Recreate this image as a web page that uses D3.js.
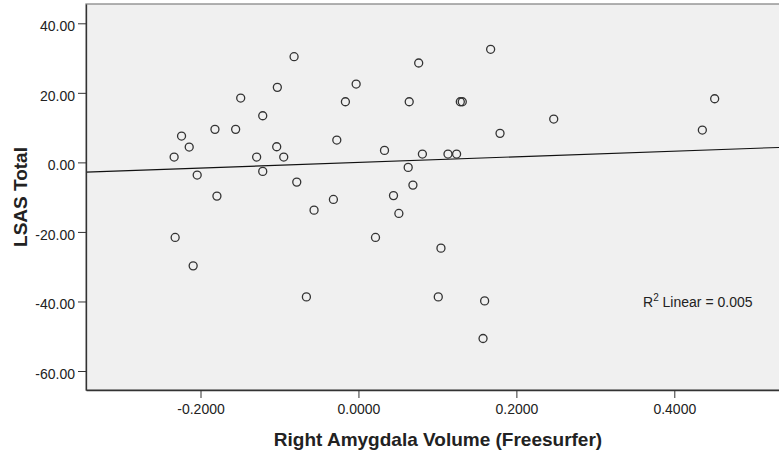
<!doctype html>
<html lang="en">
<head>
<meta charset="utf-8">
<title>LSAS Total vs Right Amygdala Volume</title>
<script src="https://d3js.org/d3.v7.min.js"></script>
<style>
  body { margin: 0; background: #fff; }
  text { font-family: "Liberation Sans", Arial, sans-serif; fill: #222; }
  .tick text { font-size: 14px; }
  .tick line, .domain { stroke: #333; }
  .title { font-size: 19px; font-weight: bold; }
  .pt { fill: none; stroke: #333; stroke-width: 1.3px; }
</style>
</head>
<body>
<svg width="779" height="457"></svg>
<script>
// right amygdala volume (x) and LSAS total (y)
var amygdala = [-0.224, -0.2143, -0.2334, -0.2042, -0.2321, -0.2093, -0.0815, -0.1027, -0.0029, -0.1491,
  -0.0165, -0.1212, -0.1817, -0.1555, -0.1035, -0.0274, -0.1289, -0.0946, -0.1212, -0.0781,
  -0.1792, -0.0562, -0.0317, -0.0659, 0.0216, 0.033, 0.0763, 0.0643, 0.063, 0.069,
  0.0444, 0.0512, 0.081, 0.1134, 0.1243, 0.129, 0.1315, 0.1674, 0.1793, 0.1045,
  0.1011, 0.1598, 0.1578, 0.2473, 0.4355, 0.4511];
var lsas = [7.57, 4.40, 1.53, -3.65, -21.58, -29.76, 30.39, 21.58, 22.53, 18.50,
  17.44, 13.41, 9.50, 9.50, 4.49, 6.42, 1.53, 1.53, -2.59, -5.67,
  -9.70, -13.73, -10.65, -38.68, -21.58, 3.45, 28.58, 17.44, -1.44, -6.53,
  -9.55, -14.68, 2.39, 2.39, 2.39, 17.44, 17.44, 32.52, 8.35, -24.66,
  -38.68, -39.83, -50.65, 12.46, 9.30, 18.30];

var xTicks = [-0.2, 0, 0.2, 0.4];
var yTicks = [-60, -40, -20, 0, 20, 40];
var xDomain = [-0.345, 0.5465];
var yDomain = [-65.46, 45.55];
var xLabel = "Right Amygdala Volume (Freesurfer)";
var yLabel = "LSAS Total";
var r2Text = "0.005";

var svg = d3.select("svg");
var pl = 86, pr = 790, pt = 4, pb = 390;

var x = d3.scaleLinear().domain(xDomain).range([pl, pr]);
var y = d3.scaleLinear().domain(yDomain).range([pb, pt]);

svg.append("defs").append("clipPath").attr("id", "clip")
  .append("rect").attr("x", pl).attr("y", pt)
  .attr("width", pr - pl).attr("height", pb - pt);

svg.append("rect")
  .attr("x", pl).attr("y", pt)
  .attr("width", pr - pl).attr("height", pb - pt)
  .attr("fill", "#f0f0f0").attr("stroke", "#888").attr("stroke-width", 1.3);

// least squares fit
var mx = d3.mean(amygdala), my = d3.mean(lsas);
var sxy = d3.sum(amygdala, (v, i) => (v - mx) * (lsas[i] - my));
var sxx = d3.sum(amygdala, v => (v - mx) * (v - mx));
var slope = sxy / sxx, icpt = my - slope * mx;

svg.append("line")
  .attr("clip-path", "url(#clip)")
  .attr("x1", x(xDomain[0])).attr("y1", y(icpt + slope * xDomain[0]))
  .attr("x2", x(xDomain[1])).attr("y2", y(icpt + slope * xDomain[1]))
  .attr("stroke", "#111").attr("stroke-width", 1.1);

svg.append("g").attr("clip-path", "url(#clip)")
  .selectAll("circle")
  .data(amygdala)
  .enter().append("circle")
  .attr("class", "pt")
  .attr("cx", d => x(d))
  .attr("cy", (d, i) => y(lsas[i]))
  .attr("r", 4);

svg.append("g")
  .attr("transform", "translate(0," + pb + ")")
  .call(d3.axisBottom(x).tickValues(xTicks).tickSize(8).tickSizeOuter(0).tickPadding(6)
    .tickFormat(d => d.toFixed(4)))
  .call(g => g.select(".domain").attr("stroke-width", 1.3));

svg.append("g")
  .attr("transform", "translate(" + pl + ",0)")
  .call(d3.axisLeft(y).tickValues(yTicks).tickSize(8).tickSizeOuter(0).tickPadding(3)
    .tickFormat(d => d.toFixed(2)))
  .call(g => g.select(".domain").attr("stroke-width", 1.3))
  .call(g => g.selectAll(".tick text").attr("dy", "0.52em"));

svg.selectAll(".tick text").attr("fill", "#222");

svg.append("text").attr("class", "title")
  .attr("x", (pl + pr) / 2).attr("y", 446)
  .attr("text-anchor", "middle")
  .text(xLabel);

svg.append("text").attr("class", "title")
  .attr("transform", "translate(27," + (pt + pb) / 2 + ") rotate(-90)")
  .attr("text-anchor", "middle")
  .text(yLabel);

var note = svg.append("text")
  .attr("x", 643).attr("y", 306.5)
  .style("font-size", "14px");
note.append("tspan").text("R");
note.append("tspan").attr("dy", -6).style("font-size", "10px").text("2");
note.append("tspan").attr("dy", 6).text(" Linear = " + r2Text);
</script>
</body>
</html>
